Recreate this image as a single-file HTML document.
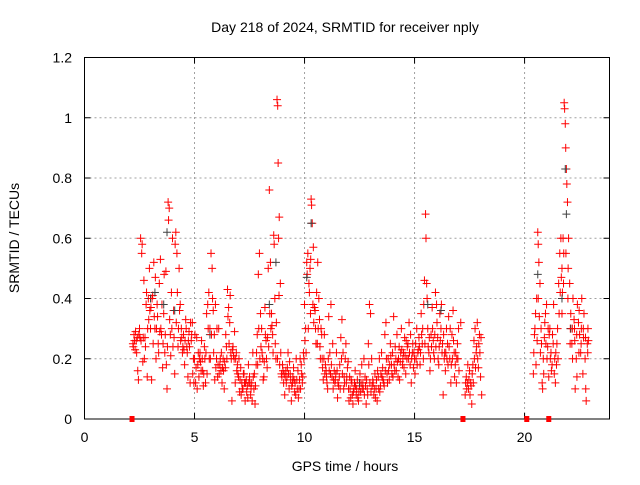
<!DOCTYPE html>
<html><head><meta charset="utf-8"><style>
body{margin:0;background:#fff;}
svg text{font-family:"Liberation Sans",sans-serif;font-size:14px;fill:#000;}
</style></head><body>
<svg id="chart" width="640" height="480" xmlns="http://www.w3.org/2000/svg">
<rect width="640" height="480" fill="#fff"/>
<text x="345" y="32" text-anchor="middle">Day 218 of 2024, SRMTID for receiver nply</text>
<text transform="translate(19,238) rotate(-90)" text-anchor="middle">SRMTID / TECUs</text>
<text x="345" y="471" text-anchor="middle">GPS time / hours</text>
<g id="grid"></g><g id="pts"></g>
<rect x="84.5" y="57.5" width="525" height="361.5" fill="none" stroke="#000" stroke-width="1"/>
<g id="axes"></g>
</svg>
<script>
const xTicks=[0,5,10,15,20];
const yTicks=[0,0.2,0.4,0.6,0.8,1,1.2];
const yTickLabels=["0","0.2","0.4","0.6","0.8","1","1.2"];
const redPoints=[
[2.2,.25],[2.25,.28],[2.3,.23],[2.35,.26],[2.4,.27],[2.45,.13],[2.5,.3],[2.55,.6],[2.6,.55],[2.65,.19],[2.7,.46],[2.75,.27],[2.8,.38],[2.85,.14],[2.9,.4],[2.95,.5],[3.0,.3],[3.05,.13],[3.1,.41],[3.15,.52],[3.2,.3],[3.25,.2],[3.3,.38],[3.35,.25],[3.4,.45],[3.45,.53],[3.5,.28],[3.55,.17],[3.6,.35],[3.65,.22],[3.7,.49],[3.75,.1],[3.8,.72],[3.85,.7],[3.9,.28],[3.95,.42],[4.0,.6],[4.05,.36],[4.1,.15],[4.15,.62],[4.2,.55],[4.25,.24],[4.3,.5],[4.35,.38],[4.4,.3],[4.45,.22],[4.5,.28],[4.55,.18],[4.6,.33],[4.65,.24],[4.7,.14],[4.75,.29],[4.8,.12],[4.85,.26],[4.9,.32],[4.95,.2],
[2.22,.24],[2.32,.29],[2.42,.16],[2.52,.27],[2.62,.58],[2.72,.2],[2.82,.42],[2.92,.33],[3.02,.37],[3.12,.25],[3.22,.47],[3.32,.34],[3.42,.29],[3.52,.38],[3.62,.48],[3.72,.18],[3.82,.66],[3.92,.21],[4.02,.24],[4.12,.58],[4.22,.42],[4.32,.36],[4.42,.27],[4.52,.23],[4.62,.3],[4.72,.26],[4.82,.32],[4.92,.15],[4.97,.12],
[5.0,.2],[5.05,.12],[5.1,.27],[5.15,.18],[5.2,.14],[5.25,.22],[5.3,.16],[5.35,.2],[5.4,.11],[5.45,.24],[5.5,.12],[5.55,.35],[5.6,.38],[5.65,.42],[5.7,.3],[5.75,.55],[5.8,.5],[5.85,.36],[5.9,.28],[5.95,.38],[6.0,.2],[6.05,.14],[6.1,.3],[6.15,.18],[6.2,.16],[6.25,.12],[6.3,.2],[6.35,.1],[6.4,.17],[6.45,.24],[6.5,.43],[6.55,.37],[6.6,.32],[6.65,.22],[6.7,.06],[6.75,.24],[6.8,.2],[6.85,.12],[6.9,.22],[6.95,.18],[7.0,.14],[7.05,.09],[7.1,.17],[7.15,.12],[7.2,.1],[7.25,.15],[7.3,.06],[7.35,.13],[7.4,.11],[7.45,.18],
[5.02,.28],[5.12,.1],[5.22,.2],[5.32,.26],[5.42,.15],[5.52,.22],[5.62,.3],[5.72,.2],[5.82,.4],[5.92,.13],[6.02,.3],[6.12,.15],[6.22,.22],[6.32,.16],[6.42,.28],[6.52,.34],[6.62,.41],[6.72,.23],[6.82,.29],[6.92,.16],[7.02,.2],[7.12,.08],[7.22,.15],[7.32,.12],[7.42,.07],
[7.5,.14],[7.55,.08],[7.6,.12],[7.65,.22],[7.7,.1],[7.75,.05],[7.8,.18],[7.85,.28],[7.9,.48],[7.95,.55],[8.0,.35],[8.05,.3],[8.1,.2],[8.15,.14],[8.2,.37],[8.25,.26],[8.3,.17],[8.35,.5],[8.4,.76],[8.45,.52],[8.5,.35],[8.55,.28],[8.6,.61],[8.65,.4],[8.7,.2],[8.75,1.06],[8.78,1.04],[8.8,.85],[8.82,.6],[8.85,.67],[8.9,.45],[8.95,.15],[9.0,.18],[9.05,.12],[9.1,.08],[9.15,.16],[9.2,.14],[9.25,.22],[9.3,.1],[9.35,.15],[9.4,.06],[9.45,.12],[9.5,.17],[9.55,.09],[9.6,.08],[9.65,.13],[9.7,.16],[9.75,.1],
[7.52,.12],[7.62,.06],[7.72,.15],[7.82,.22],[7.92,.3],[8.02,.24],[8.12,.13],[8.22,.28],[8.32,.27],[8.42,.35],[8.52,.31],[8.62,.58],[8.72,.32],[8.84,.41],[8.92,.22],[9.02,.16],[9.12,.14],[9.22,.17],[9.32,.19],[9.42,.11],[9.52,.13],[9.62,.2],[9.72,.07],
[9.8,.2],[9.85,.18],[9.9,.12],[9.95,.22],[10.0,.38],[10.05,.3],[10.1,.52],[10.15,.55],[10.2,.45],[10.25,.5],[10.3,.73],[10.32,.71],[10.35,.65],[10.4,.57],[10.45,.37],[10.5,.3],[10.55,.42],[10.6,.52],[10.65,.4],[10.7,.24],[10.75,.3],[10.8,.2],[10.85,.13],[10.9,.28],[10.95,.18],[11.0,.14],[11.05,.1],[11.1,.34],[11.15,.22],[11.2,.38],[11.25,.14],[11.3,.1],[11.35,.16],[11.4,.13],[11.45,.22],[11.5,.07],[11.55,.11],[11.6,.18],[11.65,.27],[11.7,.33],[11.75,.22],[11.8,.14],[11.85,.2],[11.9,.12],[11.95,.17],
[9.82,.1],[9.92,.14],[10.02,.26],[10.12,.48],[10.22,.42],[10.28,.53],[10.38,.38],[10.48,.36],[10.58,.25],[10.68,.33],[10.78,.28],[10.88,.2],[10.98,.16],[11.08,.2],[11.18,.15],[11.28,.25],[11.38,.12],[11.48,.16],[11.58,.14],[11.68,.2],[11.78,.1],[11.88,.25],[11.98,.19],
[12.0,.1],[12.05,.14],[12.1,.07],[12.15,.12],[12.2,.05],[12.25,.1],[12.3,.16],[12.35,.08],[12.4,.13],[12.45,.06],[12.5,.11],[12.55,.09],[12.6,.18],[12.65,.12],[12.7,.2],[12.75,.14],[12.8,.05],[12.85,.1],[12.9,.25],[12.95,.38],[13.0,.35],[13.05,.2],[13.1,.13],[13.15,.08],[13.2,.15],[13.25,.1],[13.3,.06],[13.35,.14],[13.4,.2],[13.45,.11],[13.5,.22],[13.55,.17],[13.6,.12],[13.65,.28],[13.7,.32],[13.75,.15],[13.8,.2],[13.85,.13],[13.9,.25],[13.95,.18],[14.0,.22],[14.05,.34],[14.1,.16],[14.15,.2],[14.2,.28],[14.25,.14],[14.3,.24],[14.35,.19],[14.4,.3],[14.45,.18],[14.5,.22],[14.55,.27],[14.6,.15],[14.65,.2],[14.7,.25],[14.75,.32],[14.8,.18],[14.85,.12],[14.9,.22],[14.95,.17],
[12.02,.06],[12.12,.13],[12.22,.09],[12.32,.11],[12.42,.07],[12.52,.15],[12.62,.1],[12.72,.08],[12.82,.13],[12.92,.18],[13.02,.09],[13.12,.12],[13.22,.07],[13.32,.16],[13.42,.09],[13.52,.14],[13.62,.11],[13.72,.2],[13.82,.16],[13.92,.21],[14.02,.14],[14.12,.24],[14.22,.19],[14.32,.13],[14.42,.23],[14.52,.17],[14.62,.26],[14.72,.2],[14.82,.28],[14.92,.25],
[15.0,.2],[15.05,.25],[15.1,.3],[15.15,.22],[15.2,.27],[15.25,.18],[15.3,.35],[15.35,.25],[15.4,.2],[15.45,.46],[15.5,.68],[15.52,.6],[15.55,.45],[15.6,.3],[15.65,.22],[15.7,.16],[15.75,.28],[15.8,.37],[15.85,.26],[15.9,.2],[15.95,.42],[16.0,.38],[16.05,.27],[16.1,.18],[16.15,.35],[16.2,.3],[16.25,.22],[16.3,.08],[16.35,.2],[16.4,.16],[16.45,.3],[16.5,.25],[16.55,.34],[16.6,.2],[16.65,.12],[16.7,.28],[16.75,.36],[16.8,.22],[16.85,.18],[16.9,.12],[16.95,.25],[17.0,.3],
[17.3,.08],[17.35,.14],[17.4,.12],[17.45,.1],[17.5,.16],[17.55,.12],[17.6,.05],[17.65,.18],[17.7,.26],[17.75,.3],[17.8,.22],[17.85,.32],[17.9,.17],[17.95,.28],[18.0,.14],[18.05,.08],
[15.02,.15],[15.12,.18],[15.22,.24],[15.32,.28],[15.42,.38],[15.57,.4],[15.62,.24],[15.72,.2],[15.82,.3],[15.92,.28],[16.02,.32],[16.12,.24],[16.22,.38],[16.32,.28],[16.42,.22],[16.52,.18],[16.62,.3],[16.72,.2],[16.82,.14],[16.92,.2],[17.02,.16],[17.1,.32],[17.32,.12],[17.42,.18],[17.52,.08],[17.62,.15],[17.72,.2],[17.82,.24],[17.92,.25],[18.02,.27],
[20.4,.15],[20.45,.28],[20.5,.35],[20.55,.4],[20.6,.62],[20.62,.58],[20.65,.52],[20.7,.45],[20.75,.3],[20.8,.12],[20.85,.2],[20.9,.27],[20.95,.35],[21.0,.38],[21.05,.24],[21.1,.14],[21.15,.3],[21.2,.22],[21.25,.18],[21.3,.25],[21.35,.15],[21.4,.12],[21.45,.18],[21.5,.3],[21.55,.45],[21.6,.55],[21.65,.6],[21.7,.5],[21.72,.42],[21.75,.6],[21.8,1.05],[21.82,1.03],[21.85,.98],[21.87,.9],[21.9,.83],[21.92,.78],[21.95,.72],[22.0,.6],[22.05,.45],[22.1,.35],[22.15,.25],[22.2,.4],[22.25,.33],[22.3,.1],[22.35,.2],[22.4,.38],[22.45,.32],[22.5,.28],[22.55,.22],[22.6,.4],[22.65,.15],[22.7,.35],[22.75,.2],[22.8,.06],[22.85,.25],[22.9,.26],
[20.42,.22],[20.52,.18],[20.62,.4],[20.72,.22],[20.82,.1],[20.92,.32],[21.02,.2],[21.12,.28],[21.22,.16],[21.32,.38],[21.42,.22],[21.52,.2],[21.62,.42],[21.7,.35],[21.78,.55],[21.98,.5],[22.08,.3],[22.18,.2],[22.28,.26],[22.38,.14],[22.48,.36],[22.58,.3],[22.68,.27],[22.78,.1],[22.88,.3]
];
const extraPoints=[
[2.27,.26],[2.37,.22],[2.47,.28],[2.57,.26],[2.67,.27],[2.77,.24],[2.87,.3],[2.97,.36],[3.07,.4],[3.17,.34],[3.27,.3],[3.37,.22],[3.47,.3],[3.57,.25],[3.67,.28],[3.77,.24],[3.87,.33],[3.97,.3],[4.07,.27],[4.17,.32],[4.27,.3],[4.37,.26],[4.47,.24],[4.57,.26],[4.67,.22],[4.77,.24],[4.87,.28],
[5.07,.17],[5.17,.22],[5.27,.19],[5.37,.16],[5.47,.2],[5.57,.15],[5.67,.2],[5.77,.28],[5.87,.22],[5.97,.17],[6.07,.18],[6.17,.2],[6.27,.17],[6.37,.19],[6.47,.2],[6.57,.25],[6.67,.2],[6.77,.21],[6.87,.2],[6.97,.15],[7.07,.13],[7.17,.1],[7.27,.12],[7.37,.09],[7.47,.12],
[7.57,.1],[7.67,.14],[7.77,.11],[7.87,.18],[7.97,.2],[8.07,.22],[8.17,.19],[8.27,.2],[8.37,.24],[8.47,.3],[8.57,.22],[8.67,.25],[8.77,.2],[8.87,.18],[8.97,.14],[9.07,.15],[9.17,.12],[9.27,.15],[9.37,.13],[9.47,.14],[9.57,.12],[9.67,.1],[9.77,.13],
[9.87,.15],[9.97,.2],[10.07,.22],[10.17,.3],[10.27,.35],[10.42,.32],[10.52,.25],[10.62,.3],[10.72,.2],[10.82,.17],[10.92,.15],[11.02,.12],[11.12,.16],[11.22,.18],[11.32,.13],[11.42,.15],[11.52,.12],[11.62,.1],[11.72,.15],[11.82,.12],[11.92,.14],
[12.07,.1],[12.17,.08],[12.27,.12],[12.37,.1],[12.47,.09],[12.57,.12],[12.67,.1],[12.77,.11],[12.87,.08],[12.97,.12],[13.07,.11],[13.17,.1],[13.27,.13],[13.37,.1],[13.47,.15],[13.57,.13],[13.67,.16],[13.77,.12],[13.87,.18],[13.97,.15],[14.07,.18],[14.17,.16],[14.27,.2],[14.37,.22],[14.47,.2],[14.57,.21],[14.67,.24],[14.77,.22],[14.87,.2],[14.97,.22],
[15.07,.2],[15.17,.23],[15.27,.22],[15.37,.3],[15.47,.25],[15.67,.27],[15.77,.24],[15.87,.22],[15.97,.24],[16.07,.2],[16.17,.26],[16.27,.25],[16.37,.22],[16.47,.2],[16.57,.24],[16.67,.18],[16.77,.26],[16.87,.22],[16.97,.2],
[17.37,.1],[17.47,.13],[17.57,.11],[17.67,.12],[17.77,.17],[17.87,.2],[17.97,.22],
[20.47,.3],[20.57,.26],[20.67,.34],[20.77,.25],[20.87,.15],[20.97,.25],[21.07,.3],[21.17,.2],[21.27,.28],[21.37,.2],[21.47,.25],[21.57,.35],[21.67,.47],[21.77,.45],[21.88,.55],[21.97,.4],[22.07,.25],[22.17,.3],[22.27,.3],[22.37,.28],[22.47,.22],[22.57,.25],[22.67,.3],[22.77,.27],[22.87,.22]
];
const darkPoints=[[3.0,.4],[3.2,.42],[3.6,.38],[3.75,.62],[4.1,.36],[5.7,.28],[8.4,.38],[8.7,.52],[10.1,.47],[10.3,.65],[12.5,.12],[15.6,.38],[16.2,.36],[21.85,.83],[21.9,.68],[21.7,.4],[20.6,.48],[22.1,.3]];
const gapMarkers=[2.16,17.2,20.1,21.1];

const X0=84.5,X1=609.5,Y0=419,Y1=57.5,XMAX=23.86,YMAX=1.2;
const xs=v=>X0+(X1-X0)*v/XMAX;
const ys=v=>Y0-(Y0-Y1)*v/YMAX;
const NS="http://www.w3.org/2000/svg";
function mk(tag,attrs,parent){const e=document.createElementNS(NS,tag);for(const k in attrs)e.setAttribute(k,attrs[k]);parent.appendChild(e);return e;}
const grid=document.getElementById('grid'),axes=document.getElementById('axes'),pts=document.getElementById('pts');
xTicks.forEach(t=>{
  const x=xs(t);
  if(t>0){const g=mk('line',{x1:x,x2:x,y1:Y0,y2:Y1,stroke:'#a0a0a0','stroke-dasharray':'2,3'},grid);
  
  }
  mk('line',{x1:x,x2:x,y1:Y0,y2:Y0-6,stroke:'#000'},axes);
  mk('line',{x1:x,x2:x,y1:Y1,y2:Y1+6,stroke:'#000'},axes);
  const tx=mk('text',{x:x,y:442,'text-anchor':'middle'},axes);tx.textContent=t;
  
  
});
yTicks.forEach((t,i)=>{
  const y=ys(t);
  if(t>0&&t<YMAX){const g=mk('line',{x1:X0,x2:X1,y1:y,y2:y,stroke:'#a0a0a0','stroke-dasharray':'2,3'},grid);
  
  }
  mk('line',{x1:X0,x2:X0+6,y1:y,y2:y,stroke:'#000'},axes);
  mk('line',{x1:X1,x2:X1-6,y1:y,y2:y,stroke:'#000'},axes);
  const tx=mk('text',{x:72,y:y+5,'text-anchor':'end'},axes);tx.textContent=yTickLabels[i];
  
  
});
function plus(p,color){
  const x=xs(p[0]),y=ys(p[1]);
  return mk('path',{d:`M${x-4},${y}h8M${x},${y-4}v8`,stroke:color,'stroke-width':1,fill:'none'},pts);
}
redPoints.forEach(p=>{const e=plus(p,'#ff0000');
  
  });
darkPoints.forEach(p=>{const e=plus(p,'#404040');
  
  });
extraPoints.forEach(p=>{const e=plus(p,'#ff0000');
  
  });
gapMarkers.forEach(g=>{
  const e=mk('rect',{x:xs(g)-2.5,y:Y0-3,width:5,height:6,fill:'#ff0000'},axes);
  
  
});
</script>
</body></html>
